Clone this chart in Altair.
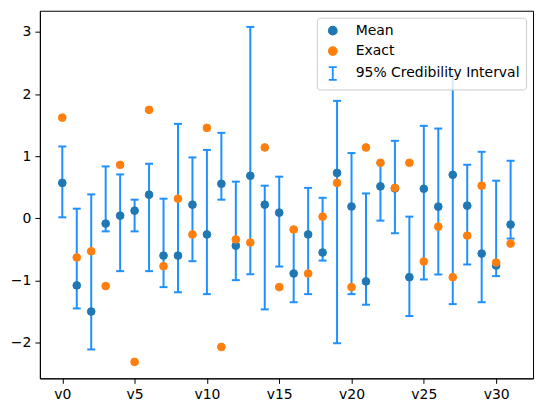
import altair as alt
import pandas as pd

names = ["v0", "v1", "v2", "v3", "v4", "v5", "v6", "v7", "v8", "v9", "v10",
         "v11", "v12", "v13", "v14", "v15", "v16", "v17", "v18", "v19", "v20",
         "v21", "v22", "v23", "v24", "v25", "v26", "v27", "v28", "v29", "v30", "v31"]
mean = [0.57, -1.08, -1.50, -0.085, 0.043, 0.123, 0.38, -0.60, -0.60, 0.22, -0.26,
        0.556, -0.44, 0.685, 0.22, 0.091, -0.888, -0.26, -0.55, 0.73, 0.19, -1.016,
        0.514, 0.48, -0.947, 0.476, 0.188, 0.70, 0.204, -0.567, -0.76, -0.10]
exact = [1.62, -0.63, -0.53, -1.09, 0.86, -2.31, 1.745, -0.77, 0.316, -0.26, 1.455,
         -2.07, -0.34, -0.39, 1.14, -1.107, -0.18, -0.888, 0.027, 0.57, -1.107, 1.14,
         0.894, 0.49, 0.894, -0.695, -0.134, -0.947, -0.278, 0.525, -0.711, -0.406]
lower = [0.016, -1.45, -2.11, -0.21, -0.85, -0.21, -0.85, -1.107, -1.19, -0.69, -1.22,
         0.30, -0.995, -0.90, -1.465, -0.776, -1.35, -1.22, -0.68, -2.01, -1.22, -1.39,
         -0.037, -0.24, -1.573, -0.984, -0.904, -1.38, -0.743, -1.35, -0.93, -0.326]
upper = [1.156, 0.155, 0.385, 0.835, 0.706, 0.30, 0.878, 0.316, 1.52, 0.98, 1.10,
         1.375, 0.59, 3.08, 0.525, 0.67, -0.18, 0.49, 0.33, 1.89, 1.05, 0.40,
         0.89, 1.247, 0.027, 1.488, 1.445, 2.30, 0.862, 1.07, 0.605, 0.926]

series = ["Mean", "Exact", "95% Credibility Interval"]
colors = ["#1f77b4", "#ff7f0e", "#1e90ff"]
shapes = ["circle", "circle", "M-1,-1.6H1M0,-1.6V1.6M-1,1.6H1"]

df = pd.DataFrame({
    "idx": list(range(len(names))),
    "name": names,
    "mean": mean,
    "exact": exact,
    "lower": lower,
    "upper": upper,
})

xs = alt.Scale(domain=[-1.55, 32.55], nice=False, zero=False)
ys = alt.Scale(domain=[-2.575, 3.34], nice=False, zero=False)

xenc = alt.X("idx:Q", scale=xs, title=None,
             axis=alt.Axis(values=[0, 5, 10, 15, 20, 25, 30],
                           labelExpr="'v' + datum.value"))
yaxis = alt.Axis(values=[-2, -1, 0, 1, 2, 3], format="d")

color_scale = alt.Scale(domain=series, range=colors)
shape_scale = alt.Scale(domain=series, range=shapes)
legend = alt.Legend(
    title=None, orient="top-right", offset=7,
    symbolSize=64, symbolStrokeWidth=1.8,
    labelFontSize=14, labelFont="DejaVu Sans", labelColor="black",
    labelOffset=16, symbolOffset=3, rowPadding=4.5, labelLimit=0,
    padding=6, fillColor="rgba(255,255,255,0.8)", strokeColor="#cccccc",
    cornerRadius=3,
)

base = alt.Chart(df)

bars = base.mark_rule(color="#1e90ff", strokeWidth=2).encode(
    x=xenc, y=alt.Y("lower:Q", scale=ys, title=None, axis=yaxis), y2="upper:Q")
caps_lo = base.mark_tick(color="#1e90ff", orient="horizontal", size=8,
                         thickness=2, opacity=1).encode(
    x=xenc, y=alt.Y("lower:Q", scale=ys))
caps_hi = base.mark_tick(color="#1e90ff", orient="horizontal", size=8,
                         thickness=2, opacity=1).encode(
    x=xenc, y=alt.Y("upper:Q", scale=ys))


def pts(label, field):
    return base.transform_calculate(series=f"'{label}'").mark_point(
        size=60, opacity=1, strokeWidth=1).encode(
        x=xenc, y=alt.Y(f"{field}:Q", scale=ys),
        fill=alt.Fill("series:N", scale=color_scale, legend=legend),
        stroke=alt.Stroke("series:N", scale=color_scale, legend=legend),
        shape=alt.Shape("series:N", scale=shape_scale, legend=legend))


mean_pts = pts("Mean", "mean")
exact_pts = pts("Exact", "exact")

chart = alt.layer(bars, caps_lo, caps_hi, mean_pts, exact_pts).properties(
    width=495, height=369,
    padding={"left": 2, "top": 2, "right": 5, "bottom": 5},
    background="white",
).configure_view(
    stroke="black", strokeWidth=1
).configure_axis(
    grid=False, domainColor="black", tickColor="black", tickSize=5,
    labelPadding=4, labelFontSize=14, labelFont="DejaVu Sans",
    labelColor="black", domainWidth=1, tickWidth=1,
)

chart.save("out.html", embed_options={"renderer": "svg", "actions": False})
